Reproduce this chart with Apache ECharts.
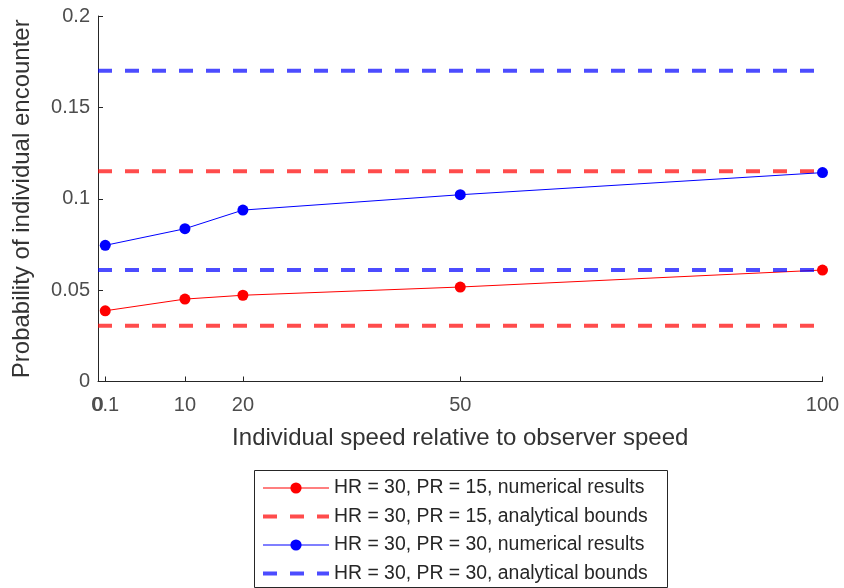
<!DOCTYPE html>
<html>
<head>
<meta charset="utf-8">
<script src="https://cdn.jsdelivr.net/npm/echarts@6/dist/echarts.min.js"></script>
<style>html,body{margin:0;padding:0;background:#fff;}#c{width:844px;height:588px;}</style>
</head>
<body>
<div id="c"></div>
<script>
// x positions of the plotted points (axis units) and their displayed tick labels
var tickPositions = [0, 1, 12, 20, 50, 100];
var tickLabels = ['0', '0.1', '10', '20', '50', '100'];
var xPositions = [1, 12, 20, 50, 100];
var redNumerical = [0.0387, 0.0451, 0.0472, 0.0517, 0.0610];
var blueNumerical = [0.0745, 0.0836, 0.0938, 0.1022, 0.1143];
var redBounds = [0.0305, 0.1150];
var blueBounds = [0.0610, 0.1700];
var xRange = [0, 100];
var seriesNames = [
  'HR = 30, PR = 15, numerical results',
  'HR = 30, PR = 15, analytical bounds',
  'HR = 30, PR = 30, numerical results',
  'HR = 30, PR = 30, analytical bounds'
];

function pts(xs, ys) { return xs.map(function (x, i) { return [x, ys[i]]; }); }
function boundLines(name, vals, color) {
  return vals.map(function (v) {
    return {
      name: name, type: 'line', data: [[xRange[0], v], [xRange[1], v]],
      showSymbol: false, symbol: 'none', silent: true,
      lineStyle: { color: color, width: 4, type: [14, 13], cap: 'butt' },
      itemStyle: { color: color }
    };
  });
}
function labelFor(v) { var i = tickPositions.indexOf(v); return i >= 0 ? tickLabels[i] : ''; }
var font = 'Liberation Sans, Arial, sans-serif';
var chart = echarts.init(document.getElementById('c'), null, { renderer: 'canvas' });
var series = [];
series.push({
  name: seriesNames[0], type: 'line', data: pts(xPositions, redNumerical),
  symbol: 'circle', symbolSize: 11, showAllSymbol: true,
  lineStyle: { color: '#ff0000', width: 1 }, itemStyle: { color: '#ff0000' }
});
series = series.concat(boundLines(seriesNames[1], redBounds, 'rgba(255,0,0,0.7)'));
series.push({
  name: seriesNames[2], type: 'line', data: pts(xPositions, blueNumerical),
  symbol: 'circle', symbolSize: 11, showAllSymbol: true,
  lineStyle: { color: '#0000ff', width: 1 }, itemStyle: { color: '#0000ff' }
});
series = series.concat(boundLines(seriesNames[3], blueBounds, 'rgba(0,0,255,0.7)'));

var tickLabelStyle = { fontFamily: font, fontSize: 20, color: '#4d4d4d' };
chart.setOption({
  animation: false,
  backgroundColor: '#fff',
  grid: { left: 98, right: 21.5, top: 16, bottom: 206.5, containLabel: false },
  xAxis: [{
    type: 'value', min: xRange[0], max: xRange[1],
    name: 'Individual speed relative to observer speed',
    nameLocation: 'middle', nameGap: 45,
    nameTextStyle: { fontFamily: font, fontSize: 24, color: '#333' },
    axisLine: { show: true, onZero: false, lineStyle: { color: '#262626', width: 1 } },
    axisTick: { show: true, inside: true, length: 5, customValues: tickPositions, lineStyle: { color: '#262626' } },
    axisLabel: Object.assign({
      customValues: tickPositions.slice(1), margin: 14, showMinLabel: true, showMaxLabel: true, hideOverlap: false,
      formatter: labelFor
    }, tickLabelStyle),
    splitLine: { show: false }
  }, {
    type: 'value', min: xRange[0], max: xRange[1], position: 'bottom',
    axisLine: { show: false }, axisTick: { show: false }, splitLine: { show: false },
    axisLabel: Object.assign({
      customValues: tickPositions.slice(0, 1), margin: 14, showMinLabel: true,
      formatter: labelFor
    }, tickLabelStyle)
  }],
  yAxis: {
    type: 'value', min: 0, max: 0.2, interval: 0.05,
    name: 'Probability of individual encounter',
    nameLocation: 'middle', nameGap: 64, nameRotate: 90,
    nameTextStyle: { fontFamily: font, fontSize: 24, color: '#333' },
    axisLine: { show: true, lineStyle: { color: '#262626', width: 1 } },
    axisTick: { show: true, inside: true, length: 5, lineStyle: { color: '#262626' } },
    axisLabel: Object.assign({ margin: 8 }, tickLabelStyle),
    splitLine: { show: false }
  },
  legend: {
    data: [
      { name: seriesNames[0], lineStyle: { width: 1.2 } },
      { name: seriesNames[1], itemStyle: { opacity: 0 }, lineStyle: { width: 4 } },
      { name: seriesNames[2], lineStyle: { width: 1.2 } },
      { name: seriesNames[3], itemStyle: { opacity: 0 }, lineStyle: { width: 4 } }
    ],
    orient: 'vertical', left: 254, top: 470,
    itemWidth: 66, itemHeight: 14, itemGap: 9.5,
    padding: [8.5, 0, 0, 7],
    borderWidth: 0,
    textStyle: { fontFamily: font, fontSize: 19.4, lineHeight: 19, color: '#262626' }
  },
  graphic: [{
    type: 'rect', left: 254, top: 470, z: -1,
    shape: { width: 413, height: 117 },
    style: { fill: '#fff', stroke: '#262626', lineWidth: 1 }
  }],
  series: series
});
</script>
</body>
</html>
